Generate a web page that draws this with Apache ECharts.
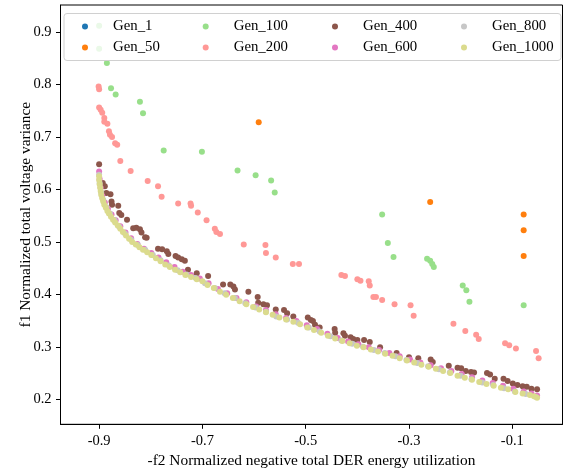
<!DOCTYPE html>
<html><head><meta charset="utf-8">
<script src="https://cdn.jsdelivr.net/npm/echarts@6/dist/echarts.min.js"></script>
<style>html,body{margin:0;padding:0;background:#fff}#c{width:563px;height:474px}</style>
</head><body><div id="c"></div>
<script>
const seriesNames = ['Gen_1','Gen_50','Gen_100','Gen_200','Gen_400','Gen_600','Gen_800','Gen_1000'];
const xTicks = [-0.9,-0.7,-0.5,-0.3,-0.1];
const yTicks = [0.2,0.3,0.4,0.5,0.6,0.7,0.8,0.9];

const gen1 = [];
const gen50 = [[-0.591,0.728],[-0.259,0.576],[-0.078,0.552],[-0.078,0.522],[-0.078,0.473]];
const gen100 = [[-0.900,0.952],[-0.900,0.912],[-0.900,0.868],[-0.885,0.841],[-0.877,0.793],[-0.868,0.781],[-0.821,0.767],[-0.815,0.745],[-0.775,0.674],[-0.701,0.672],[-0.632,0.636],[-0.597,0.627],[-0.567,0.617],[-0.560,0.594],[-0.352,0.552],[-0.341,0.498],[-0.330,0.471],[-0.265,0.468],[-0.259,0.464],[-0.255,0.458],[-0.252,0.452],[-0.196,0.417],[-0.189,0.408],[-0.183,0.386],[-0.078,0.379]];
const gen200 = [[-0.901,0.796],[-0.900,0.791],[-0.900,0.756],[-0.897,0.752],[-0.894,0.746],[-0.890,0.736],[-0.890,0.729],[-0.884,0.725],[-0.881,0.711],[-0.879,0.704],[-0.875,0.700],[-0.869,0.688],[-0.865,0.685],[-0.859,0.654],[-0.839,0.635],[-0.806,0.616],[-0.786,0.606],[-0.779,0.586],[-0.747,0.573],[-0.723,0.573],[-0.722,0.569],[-0.709,0.556],[-0.692,0.541],[-0.676,0.525],[-0.673,0.519],[-0.666,0.515],[-0.620,0.495],[-0.578,0.494],[-0.577,0.479],[-0.558,0.470],[-0.525,0.458],[-0.513,0.458],[-0.431,0.437],[-0.424,0.435],[-0.400,0.429],[-0.394,0.426],[-0.378,0.425],[-0.376,0.417],[-0.369,0.395],[-0.364,0.395],[-0.352,0.389],[-0.328,0.381],[-0.297,0.379],[-0.291,0.359],[-0.214,0.344],[-0.191,0.330],[-0.170,0.323],[-0.165,0.315],[-0.114,0.307],[-0.106,0.303],[-0.093,0.297],[-0.054,0.292],[-0.049,0.278]];
const gen400 = [[-0.900,0.648],[-0.893,0.612],[-0.889,0.606],[-0.886,0.593],[-0.878,0.591],[-0.876,0.577],[-0.875,0.571],[-0.863,0.569],[-0.861,0.555],[-0.857,0.551],[-0.846,0.542],[-0.834,0.526],[-0.828,0.527],[-0.821,0.524],[-0.818,0.518],[-0.811,0.509],[-0.808,0.508],[-0.786,0.487],[-0.778,0.486],[-0.769,0.482],[-0.766,0.477],[-0.752,0.473],[-0.747,0.470],[-0.740,0.467],[-0.734,0.464],[-0.728,0.447],[-0.711,0.440],[-0.689,0.435],[-0.660,0.419],[-0.646,0.419],[-0.640,0.415],[-0.637,0.409],[-0.611,0.405],[-0.593,0.395],[-0.592,0.384],[-0.582,0.381],[-0.575,0.379],[-0.558,0.371],[-0.542,0.370],[-0.536,0.364],[-0.524,0.358],[-0.496,0.356],[-0.490,0.351],[-0.486,0.349],[-0.482,0.342],[-0.473,0.337],[-0.444,0.334],[-0.443,0.327],[-0.427,0.326],[-0.424,0.321],[-0.413,0.318],[-0.408,0.315],[-0.400,0.313],[-0.387,0.313],[-0.376,0.309],[-0.356,0.299],[-0.324,0.288],[-0.300,0.280],[-0.282,0.278],[-0.258,0.276],[-0.254,0.271],[-0.223,0.264],[-0.206,0.260],[-0.199,0.259],[-0.190,0.254],[-0.180,0.252],[-0.174,0.251],[-0.149,0.250],[-0.143,0.247],[-0.134,0.239],[-0.117,0.239],[-0.109,0.235],[-0.099,0.230],[-0.090,0.227],[-0.080,0.225],[-0.072,0.224],[-0.063,0.220],[-0.052,0.219]];
const gen600 = [[-0.900,0.634],[-0.899,0.620],[-0.897,0.603],[-0.894,0.588],[-0.889,0.575],[-0.883,0.563],[-0.876,0.552],[-0.868,0.541],[-0.859,0.530],[-0.849,0.518],[-0.838,0.507],[-0.826,0.496],[-0.813,0.487],[-0.799,0.479],[-0.785,0.470],[-0.770,0.461],[-0.754,0.452],[-0.738,0.443],[-0.722,0.437],[-0.705,0.430],[-0.688,0.421],[-0.670,0.410],[-0.652,0.402],[-0.634,0.393],[-0.615,0.385],[-0.596,0.377],[-0.577,0.370],[-0.558,0.362],[-0.538,0.355],[-0.518,0.349],[-0.498,0.341],[-0.478,0.334],[-0.458,0.325],[-0.438,0.317],[-0.418,0.310],[-0.398,0.305],[-0.378,0.299],[-0.358,0.294],[-0.338,0.288],[-0.318,0.282],[-0.298,0.276],[-0.278,0.270],[-0.258,0.265],[-0.238,0.259],[-0.218,0.254],[-0.198,0.248],[-0.178,0.242],[-0.158,0.236],[-0.138,0.231],[-0.118,0.226],[-0.098,0.220],[-0.078,0.215],[-0.063,0.211],[-0.052,0.207]];
const gen800 = [[-0.900,0.628],[-0.899,0.612],[-0.896,0.594],[-0.892,0.580],[-0.886,0.566],[-0.879,0.554],[-0.870,0.541],[-0.861,0.529],[-0.850,0.516],[-0.838,0.504],[-0.825,0.494],[-0.811,0.485],[-0.796,0.475],[-0.781,0.465],[-0.765,0.455],[-0.748,0.446],[-0.731,0.438],[-0.713,0.431],[-0.695,0.421],[-0.676,0.412],[-0.657,0.402],[-0.637,0.393],[-0.617,0.383],[-0.597,0.375],[-0.577,0.367],[-0.557,0.358],[-0.536,0.352],[-0.515,0.346],[-0.494,0.337],[-0.473,0.329],[-0.452,0.320],[-0.431,0.312],[-0.410,0.306],[-0.389,0.300],[-0.368,0.294],[-0.347,0.288],[-0.326,0.282],[-0.305,0.275],[-0.284,0.269],[-0.263,0.263],[-0.242,0.257],[-0.221,0.251],[-0.200,0.245],[-0.179,0.238],[-0.158,0.232],[-0.137,0.227],[-0.116,0.221],[-0.095,0.215],[-0.074,0.210],[-0.055,0.205]];
const gen1000 = [[-0.900,0.625],[-0.900,0.618],[-0.899,0.610],[-0.898,0.603],[-0.897,0.597],[-0.896,0.590],[-0.894,0.583],[-0.892,0.577],[-0.890,0.571],[-0.887,0.565],[-0.884,0.559],[-0.881,0.554],[-0.877,0.548],[-0.873,0.542],[-0.869,0.537],[-0.864,0.531],[-0.859,0.525],[-0.854,0.519],[-0.848,0.512],[-0.842,0.506],[-0.836,0.500],[-0.829,0.495],[-0.822,0.490],[-0.815,0.485],[-0.807,0.480],[-0.799,0.475],[-0.790,0.469],[-0.781,0.463],[-0.772,0.457],[-0.763,0.452],[-0.753,0.447],[-0.743,0.442],[-0.733,0.437],[-0.722,0.433],[-0.711,0.429],[-0.700,0.425],[-0.690,0.418],[-0.678,0.412],[-0.666,0.405],[-0.654,0.399],[-0.641,0.393],[-0.628,0.387],[-0.615,0.381],[-0.602,0.376],[-0.590,0.371],[-0.577,0.366],[-0.564,0.361],[-0.551,0.356],[-0.538,0.352],[-0.524,0.348],[-0.511,0.343],[-0.497,0.337],[-0.484,0.332],[-0.470,0.327],[-0.457,0.321],[-0.443,0.316],[-0.429,0.311],[-0.415,0.307],[-0.401,0.302],[-0.388,0.299],[-0.374,0.295],[-0.360,0.291],[-0.346,0.287],[-0.332,0.283],[-0.318,0.278],[-0.304,0.274],[-0.290,0.270],[-0.276,0.266],[-0.262,0.262],[-0.248,0.258],[-0.234,0.254],[-0.220,0.250],[-0.206,0.245],[-0.192,0.241],[-0.178,0.237],[-0.164,0.233],[-0.150,0.229],[-0.136,0.226],[-0.122,0.222],[-0.108,0.219],[-0.094,0.214],[-0.080,0.211],[-0.066,0.208],[-0.058,0.206],[-0.052,0.203]];

const seriesData = [gen1, gen50, gen100, gen200, gen400, gen600, gen800, gen1000];
const colors = ['#1f77b4','#ff7f0e','#98df8a','#ff9896','#8c564b','#e377c2','#c7c7c7','#dbdb8d'];

const FONT = 'Liberation Serif';
const chart = echarts.init(document.getElementById('c'), null, {renderer:'canvas'});

const legendCols = [[0,1],[2,3],[4,5],[6,7]];
const legendLeft = [82, 202.7, 332, 461];
const legends = legendCols.map((idx, i) => ({
  orient: 'vertical',
  left: legendLeft[i],
  top: 19,
  padding: 0,
  itemGap: 6,
  itemWidth: 6,
  itemHeight: 6,
  icon: 'circle',
  data: idx.map(k => seriesNames[k]),
  textStyle: {fontFamily: FONT, fontSize: 14.8, color: '#000', padding: [0,0,0,20]},
  selectedMode: false,
  z: 5
}));

chart.setOption({
  animation: false,
  color: colors,
  grid: {left: 60.5, top: 5, right: 0.5, bottom: 49.7, show: true, borderColor: '#000', borderWidth: 1, containLabel: false},
  graphic: [{
    type: 'rect', z: 3, silent: true,
    shape: {x: 64, y: 13.5, width: 497, height: 47, r: 3},
    style: {fill: 'rgba(255,255,255,0.8)', stroke: '#d0d0d0', lineWidth: 1}
  }],
  legend: legends,
  xAxis: {
    type: 'value', min: -0.9748, max: -0.0028,
    name: '-f2 Normalized negative total DER energy utilization',
    nameLocation: 'middle', nameGap: 29, nameMoveOverlap: false,
    nameTextStyle: {fontFamily: FONT, fontSize: 15.4, color: '#000'},
    axisLine: {show: true, lineStyle: {color: '#000', width: 1}},
    axisTick: {show: true, length: 4.5, lineStyle: {color: '#000'}, customValues: xTicks},
    axisLabel: {fontFamily: FONT, fontSize: 14.5, color: '#000', margin: 9, customValues: xTicks, formatter: v => v.toFixed(1)},
    splitLine: {show: false}
  },
  yAxis: {
    type: 'value', min: 0.1523, max: 0.9515,
    name: 'f1 Normalized total voltage variance',
    nameLocation: 'middle', nameGap: 27.5, nameMoveOverlap: false,
    nameTextStyle: {fontFamily: FONT, fontSize: 15.4, color: '#000'},
    axisLine: {show: true, lineStyle: {color: '#000', width: 1}},
    axisTick: {show: true, length: 4.5, lineStyle: {color: '#000'}, customValues: yTicks},
    axisLabel: {fontFamily: FONT, fontSize: 14.5, color: '#000', margin: 9, customValues: yTicks, formatter: v => v.toFixed(1)},
    splitLine: {show: false}
  },
  series: seriesNames.map((n, i) => ({
    name: n, type: 'scatter', data: seriesData[i], symbol: 'circle', symbolSize: 6,
    clip: true, itemStyle: {color: colors[i], opacity: 1}, emphasis: {disabled: true}
  }))
});
</script></body></html>
